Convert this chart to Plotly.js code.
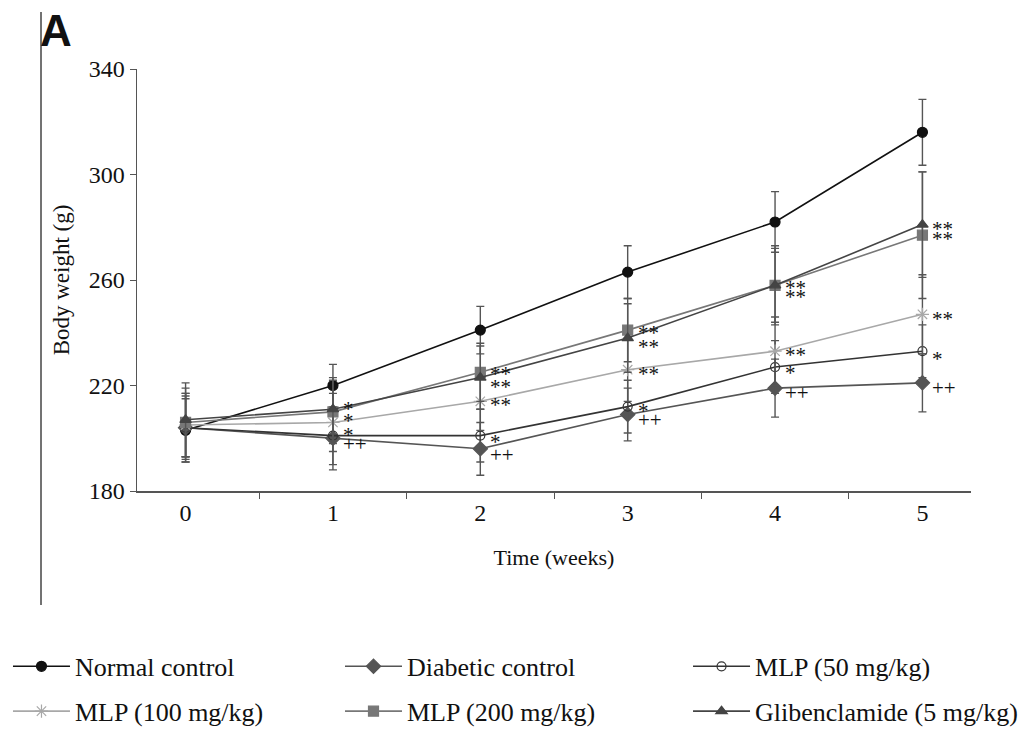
<!DOCTYPE html>
<html>
<head>
<meta charset="utf-8">
<script src="https://cdn.plot.ly/plotly-3.0.1.min.js"></script>
<style>html,body{margin:0;padding:0;background:#fff;}#chart{width:1022px;height:735px;}</style>
</head>
<body>
<div id="chart"></div>
<script>
const weeks = ['0', '1', '2', '3', '4', '5'];

const normalControl = [203, 220, 241, 263, 282, 316];
const normalSD      = [12, 8, 9, 10, 11.5, 12.5];
const normalSig     = ['', '', '', '', '', ''];

const diabeticControl = [204, 200, 196, 209, 219, 221];
const diabeticSD      = [13, 12, 10, 10, 11, 11];
const diabeticSig     = ['', '++', '++', '++', '++', '++'];

const mlp50    = [204, 201, 201, 212, 227, 233];
const mlp50SD  = [12, 11, 10, 10, 10, 10];
const mlp50Sig = ['', '', '*', '*', '*', '*'];

const mlp100    = [205, 206, 214, 226, 233, 247];
const mlp100SD  = [12, 11, 11, 12, 13, 15];
const mlp100Sig = ['', '*', '**', '**', '**', '**'];

const mlp200    = [206, 210, 225, 241, 258, 277];
const mlp200SD  = [13, 12, 11, 12, 14, 24];
const mlp200Sig = ['', '*', '**', '**', '**', '**'];

const gliben    = [207, 211, 223, 238, 258, 281];
const glibenSD  = [14, 12, 12, 13, 15, 20];
const glibenSig = ['', '*', '**', '**', '**', '**'];

// ---- styling (pixel offsets of the significance marks, not data) ----
const serif = '"Liberation Serif", "Times New Roman", Times, serif';

const specs = [
  {name: 'Normal control', y: normalControl, sd: normalSD, sig: normalSig,
   color: '#111111', symbol: 'circle', size: 10, legend: 'legend', dy: [0, 0, 0, 0, 0, 0]},
  {name: 'Diabetic control', y: diabeticControl, sd: diabeticSD, sig: diabeticSig,
   color: '#555555', symbol: 'diamond', size: 11, legend: 'legend2', dy: [0, -6, -6, -5, -5, -5]},
  {name: 'MLP (50 mg/kg)', y: mlp50, sd: mlp50SD, sig: mlp50Sig,
   color: '#333333', symbol: 'circle-open', size: 9, legend: 'legend3', dy: [0, 0, -6, -4, -6, -8]},
  {name: 'MLP (100 mg/kg)', y: mlp100, sd: mlp100SD, sig: mlp100Sig,
   color: '#a8a8a8', symbol: 'asterisk-open', size: 11, legend: 'legend', dy: [0, -13, -4, -4, -4, -5]},
  {name: 'MLP (200 mg/kg)', y: mlp200, sd: mlp200SD, sig: mlp200Sig,
   color: '#777777', symbol: 'square', size: 10, legend: 'legend2', dy: [0, -9, -2, -3, -3, -4]},
  {name: 'Glibenclamide (5 mg/kg)', y: gliben, sd: glibenSD, sig: glibenSig,
   color: '#444444', symbol: 'triangle-up', size: 10, legend: 'legend3', dy: [0, 0, -9, -9, -12, -4]}
];

const data = specs.map(s => ({
  type: 'scatter',
  mode: 'lines+markers',
  name: s.name,
  legend: s.legend,
  legendgroup: s.name,
  x: weeks,
  y: s.y,
  line: {color: s.color, width: 1.6},
  marker: {color: s.color, symbol: s.symbol, size: s.size, line: {color: s.color, width: 1.2}},
  error_y: {type: 'data', array: s.sd, visible: true, color: '#555', thickness: 1.4, width: 4},
  cliponaxis: false
}));

const annotations = [];
specs.forEach(s => {
  s.sig.forEach((t, i) => {
    if (!t) return;
    annotations.push({
      x: weeks[i], y: s.y[i], xref: 'x', yref: 'y',
      text: t, showarrow: false, xanchor: 'left', yanchor: 'middle',
      xshift: 8, yshift: s.dy[i],
      font: {family: serif, size: 21, color: '#111'}
    });
  });
});

annotations.push({
  xref: 'paper', yref: 'paper', x: -0.119, y: 1.153, xanchor: 'left', yanchor: 'top',
  text: '<b>A</b>', showarrow: false,
  font: {family: '"Liberation Sans", Arial, sans-serif', size: 44, color: '#111'}
});

const legendBase = {
  orientation: 'v', y: -0.36, yanchor: 'top', xanchor: 'left',
  tracegroupgap: 8, itemwidth: 57,
  font: {family: serif, size: 26, color: '#111'},
  bgcolor: 'rgba(0,0,0,0)'
};

const layout = {
  width: 1022,
  height: 735,
  paper_bgcolor: '#ffffff',
  plot_bgcolor: '#ffffff',
  margin: {l: 137, r: 51, t: 69, b: 244, autoexpand: false},
  font: {family: serif, color: '#111'},
  showlegend: true,
  xaxis: {
    type: 'category',
    tickson: 'boundaries',
    ticks: 'outside',
    ticklen: 6,
    tickcolor: '#555',
    showline: true,
    linecolor: '#555',
    linewidth: 1.5,
    showgrid: false,
    zeroline: false,
    automargin: false,
    tickfont: {family: serif, size: 24, color: '#111'},
    title: {text: 'Time (weeks)', font: {family: serif, size: 22, color: '#111'}, standoff: 24}
  },
  yaxis: {
    range: [180, 340],
    tickvals: [180, 220, 260, 300, 340],
    ticks: 'outside',
    ticklen: 6,
    tickcolor: '#555',
    showline: true,
    linecolor: '#555',
    linewidth: 1.5,
    showgrid: false,
    zeroline: false,
    automargin: false,
    tickfont: {family: serif, size: 24, color: '#111'},
    title: {text: 'Body weight (g)', font: {family: serif, size: 23, color: '#111'}, standoff: 12}
  },
  legend:  Object.assign({}, legendBase, {x: -0.1547}),
  legend2: Object.assign({}, legendBase, {x: 0.2434}),
  legend3: Object.assign({}, legendBase, {x: 0.6607}),
  shapes: [
    {type: 'line', xref: 'paper', yref: 'paper', x0: -0.1151, x1: -0.1151, y0: 1.135, y1: -0.27,
     line: {color: '#444', width: 1.5}}
  ],
  annotations: annotations
};

Plotly.newPlot('chart', data, layout, {displayModeBar: false, staticPlot: true});
</script>
</body>
</html>
